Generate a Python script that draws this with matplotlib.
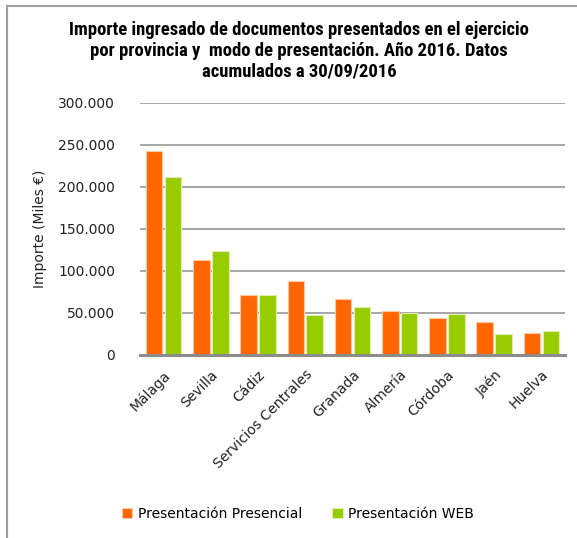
import matplotlib
matplotlib.use("Agg")
import matplotlib.pyplot as plt
import numpy as np
from matplotlib.lines import Line2D
from matplotlib import font_manager

categories = ["Málaga", "Sevilla", "Cádiz", "Servicios Centrales", "Granada",
              "Almería", "Córdoba", "Jaén", "Huelva"]
presencial = [242500, 113300, 71700, 88300, 67000, 52400, 44400, 38900, 26200]
web = [212400, 124400, 71700, 47400, 57500, 50400, 48400, 25400, 28200]
yticks = [0, 50000, 100000, 150000, 200000, 250000, 300000]
ytick_labels = ["0", "50.000", "100.000", "150.000", "200.000", "250.000", "300.000"]
series_names = ["Presentación Presencial", "Presentación WEB"]
title = ("Importe ingresado de documentos presentados en el ejercicio\n"
         "por provincia y  modo de presentación. Año 2016. Datos\n"
         "acumulados a 30/09/2016")

orange = "#FF6600"
green = "#99CC00"

plt.rcParams['font.family'] = ['DejaVu Sans']

names = {f.name for f in font_manager.fontManager.ttflist}
cond = None
for cand in ["Liberation Sans Narrow", "DejaVu Sans Condensed", "Roboto Condensed",
             "Open Sans Condensed"]:
    if cand in names:
        cond = cand
        break

fig = plt.figure(figsize=(5.77, 5.38), dpi=100)
W, H = 577, 538
ax = fig.add_axes([140 / W, 1 - 355 / H, (565 - 140) / W, (355 - 103) / H])

x = np.arange(len(categories))
bw = 0.35
ax.bar(x - 0.2, presencial, width=bw, color=orange, edgecolor="#FFC9A8",
       linewidth=0.8, label=series_names[0], zorder=3)
ax.bar(x + 0.2, web, width=bw, color=green, edgecolor="#E0F0A8",
       linewidth=0.8, label=series_names[1], zorder=3)

ax.set_xlim(-0.5, len(categories) - 0.5)
ax.set_ylim(0, 300000)
ax.set_yticks(yticks)
ax.set_yticklabels(ytick_labels, fontsize=10, color="#222222")
ax.yaxis.grid(True, color="#A6A6A6", linewidth=1.4, zorder=0)
ax.set_axisbelow(True)
for s in ["top", "right", "left"]:
    ax.spines[s].set_visible(False)
ax.spines["bottom"].set_color("#8C8C8C")
ax.spines["bottom"].set_linewidth(2.2)
ax.spines["bottom"].set_zorder(4)
ax.tick_params(axis="both", length=0)
ax.tick_params(axis="y", pad=18)
ax.set_xticks(x)
ax.set_xticklabels(categories, rotation=45, ha="right", va="top",
                   rotation_mode="anchor", fontsize=10, color="#222222")
ax.tick_params(axis="x", pad=9)
ax.set_ylabel("Importe (Miles €)", fontsize=10, color="#222222", labelpad=8)

if cond:
    fig.text(299 / W, 1 - 51 / H, title, ha="center", va="center",
             fontsize=13.4, fontweight="bold", linespacing=1.2,
             family=[cond, "DejaVu Sans"])
else:
    fig.text(299 / W, 1 - 51 / H, title, ha="center", va="center",
             fontsize=9.6, fontweight="bold", linespacing=1.55,
             family=["DejaVu Sans"])

fig.legend(loc="center", bbox_to_anchor=(298 / W, 1 - 514 / H), ncol=2,
           frameon=False, fontsize=10, handlelength=0.75, handleheight=0.75,
           handletextpad=0.4, columnspacing=2.2)

# outer frame (top and left lines)
fig.add_artist(Line2D([6.5 / W, 1.0], [1 - 5.5 / H, 1 - 5.5 / H],
                      transform=fig.transFigure, color="#A0A0A0", linewidth=1.5))
fig.add_artist(Line2D([6.5 / W, 6.5 / W], [0, 1 - 5.5 / H],
                      transform=fig.transFigure, color="#A0A0A0", linewidth=1.5))

fig.savefig("out.png", dpi=100, facecolor="white")
